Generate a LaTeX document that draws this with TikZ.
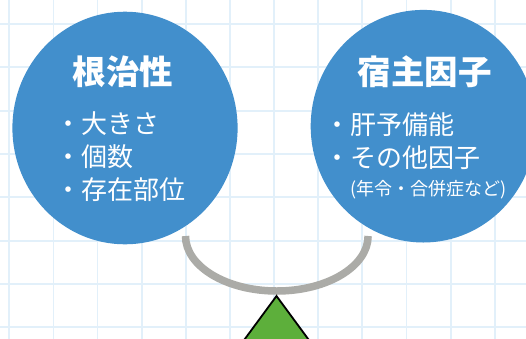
\documentclass[tikz,border=0pt]{standalone}
\usepackage{fontspec}
\setmainfont{Noto Sans CJK JP}
\usetikzlibrary{shapes.geometric}
\definecolor{gridblue}{HTML}{E2F0FA}
\definecolor{circblue}{HTML}{428FCC}
\definecolor{beamgray}{HTML}{ABABA7}
\definecolor{pivotgreen}{HTML}{5DAF3B}
\tikzset{
  gridline/.style={draw=gridblue, line width=1.8pt},
  bigcircle/.style={ellipse, fill=circblue, inner sep=0pt, minimum width=225.2pt, minimum height=232.6pt},
  titletext/.style={text=white, inner sep=0pt, anchor=base, font=\fontsize{33.5}{38}\selectfont\bfseries},
  itemtext/.style={text=white, inner sep=0pt, anchor=base west, font=\fontsize{26}{30}\selectfont},
  smalltext/.style={text=white, inner sep=0pt, anchor=base west, font=\fontsize{18}{21}\selectfont},
  beam/.style={draw=beamgray, line width=7.5pt},
  pivot/.style={fill=pivotgreen, draw=black, line width=1.8pt, line join=miter}
}
\begin{document}
\begin{tikzpicture}[x=1pt,y=-1pt]
\useasboundingbox (0,0) rectangle (526,338);
\clip (0,0) rectangle (526,338);
\fill[white] (0,0) rectangle (526,338);
\foreach \i in {0,...,11} \draw[gridline] ({9.3+44.13*\i},-5) -- ({9.3+44.13*\i},345);
\foreach \j in {0,...,7} \draw[gridline] (-5,{24+43.33*\j}) -- (531,{24+43.33*\j});

\node[bigcircle] (left) at (125,128) {};
\node[bigcircle] (right) at (423.3,126.2) {};

\node[titletext] (ltitle) at (123,84.5) {根治性};
\node[itemtext] (l1) at (55,133) {・大きさ};
\node[itemtext] (l2) at (55,166) {・個数};
\node[itemtext] (l3) at (55,199) {・存在部位};

\node[titletext] (rtitle) at (424.7,84.5) {宿主因子};
\node[itemtext] (r1) at (324,134) {・肝予備能};
\node[itemtext] (r2) at (324,167) {・その他因子};
\node[smalltext] (r3) at (350,195) {(年令・合併症など)};

\coordinate (beamL) at (185.5,236);
\draw[beam] (beamL) arc[start angle=180, end angle=0, x radius=91.3, y radius=55];

\coordinate (apex) at (276.5,296);
\draw[pivot] (apex) -- (276.5-36.8,346) -- (276.5+36.8,346) -- cycle;
\end{tikzpicture}
\end{document}
